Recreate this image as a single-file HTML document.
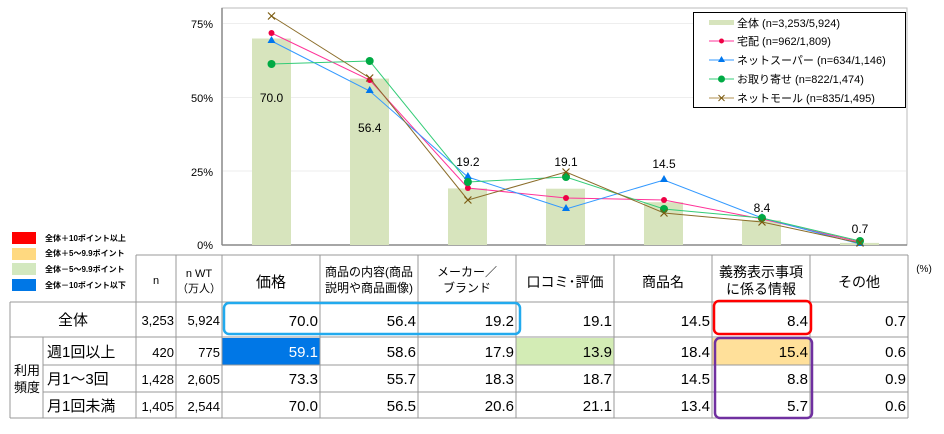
<!DOCTYPE html>
<html><head><meta charset="utf-8"><style>
body{margin:0;background:#fff;width:944px;height:429px;overflow:hidden}
svg text{font-family:"Liberation Sans","Noto Sans CJK JP",sans-serif;fill:#000}
</style></head><body>
<svg width="944" height="429" viewBox="0 0 944 429" xmlns="http://www.w3.org/2000/svg">
<!-- chart frame -->
<rect x="222" y="8" width="685" height="237" fill="#fff" stroke="#bbb" stroke-width="1"/>
<line x1="222" y1="8" x2="222" y2="245" stroke="#888" stroke-width="1.5"/>
<line x1="222" y1="245" x2="907" y2="245" stroke="#888" stroke-width="1.5"/>
<g stroke="#eee" stroke-width="1">
<line x1="223" y1="23.5" x2="906" y2="23.5"/><line x1="223" y1="97.5" x2="906" y2="97.5"/><line x1="223" y1="171" x2="906" y2="171"/>
</g>
<g font-size="11" text-anchor="end">
<text x="213" y="28">75%</text><text x="213" y="102">50%</text><text x="213" y="176">25%</text><text x="213" y="249">0%</text>
</g>
<!-- bars -->
<g fill="#d7e4bd">
<rect x="252" y="38.5" width="39" height="206.5"/>
<rect x="350" y="78.6" width="39" height="166.4"/>
<rect x="448" y="188.4" width="39" height="56.6"/>
<rect x="546" y="188.7" width="39" height="56.3"/>
<rect x="644" y="202.2" width="39" height="42.8"/>
<rect x="742" y="220.2" width="39" height="24.8"/>
<rect x="840" y="242.9" width="39" height="2.1"/>
</g>
<g font-size="12" fill="#333" text-anchor="middle">
<text x="271.5" y="102">70.0</text><text x="369.7" y="132">56.4</text>
<text x="467.9" y="166">19.2</text><text x="566" y="166">19.1</text><text x="664" y="168">14.5</text>
<text x="762" y="212">8.4</text><text x="860" y="233">0.7</text>
</g>
<!-- lines -->
<polyline fill="none" stroke="#ff3399" stroke-width="1" points="271.5,33 369.7,80 467.9,188 566,198 664,200 762,219 860,242"/>
<polyline fill="none" stroke="#3399ff" stroke-width="1" points="271.5,41 369.7,91 467.9,177 566,209 664,180 762,218 860,244"/>
<polyline fill="none" stroke="#33cc77" stroke-width="1" points="271.5,64 369.7,61 467.9,182 566,177 664,209 762,218 860,241"/>
<polyline fill="none" stroke="#8b6d2a" stroke-width="1" points="271.5,16 369.7,78 467.9,200 566,172 664,213 762,222 860,243"/>
<g fill="#ee0044">
<circle cx="271.5" cy="33" r="3"/><circle cx="369.7" cy="80" r="3"/><circle cx="467.9" cy="188" r="3"/><circle cx="566" cy="198" r="3"/><circle cx="664" cy="200" r="3"/><circle cx="762" cy="219" r="3"/><circle cx="860" cy="242" r="3"/>
</g>
<g fill="#0077ee">
<path d="M271.5,36 l4,7 h-8z"/><path d="M369.7,86 l4,7 h-8z"/><path d="M467.9,172 l4,7 h-8z"/><path d="M566,204 l4,7 h-8z"/><path d="M664,175 l4,7 h-8z"/><path d="M762,213 l4,7 h-8z"/><path d="M860,239 l4,7 h-8z"/>
</g>
<g fill="#00aa44">
<circle cx="271.5" cy="64" r="4"/><circle cx="369.7" cy="61" r="4"/><circle cx="467.9" cy="182" r="4"/><circle cx="566" cy="177" r="4"/><circle cx="664" cy="209" r="4"/><circle cx="762" cy="218" r="4"/><circle cx="860" cy="241" r="4"/>
</g>
<g stroke="#7a5a10" stroke-width="1.2">
<path d="M268,12.5l7,7M275,12.5l-7,7"/><path d="M366.2,74.5l7,7M373.2,74.5l-7,7"/><path d="M464.4,196.5l7,7M471.4,196.5l-7,7"/><path d="M562.5,168.5l7,7M569.5,168.5l-7,7"/><path d="M660.5,209.5l7,7M667.5,209.5l-7,7"/><path d="M758.5,218.5l7,7M765.5,218.5l-7,7"/><path d="M856.5,239.5l7,7M863.5,239.5l-7,7"/>
</g>
<!-- legend -->
<rect x="693.5" y="12.5" width="212" height="95" fill="#fff" stroke="#000" stroke-width="1"/>
<g font-size="11">
<rect x="709" y="20" width="25" height="5" fill="#d7e4bd"/><text x="737" y="27">全体 (n=3,253/5,924)</text>
<line x1="709" y1="41" x2="734" y2="41" stroke="#ff3399"/><circle cx="721.5" cy="41" r="2.5" fill="#ee0044"/><text x="737" y="45">宅配 (n=962/1,809)</text>
<line x1="709" y1="60" x2="734" y2="60" stroke="#3399ff"/><path d="M721.5,56 l3.5,6 h-7z" fill="#0077ee"/><text x="737" y="64">ネットスーパー (n=634/1,146)</text>
<line x1="709" y1="79" x2="734" y2="79" stroke="#33cc77"/><circle cx="721.5" cy="79" r="3.5" fill="#00aa44"/><text x="737" y="83">お取り寄せ (n=822/1,474)</text>
<line x1="709" y1="98" x2="734" y2="98" stroke="#b09050"/><path d="M718.5,95l6,6M724.5,95l-6,6" stroke="#7a5a10"/><text x="737" y="102">ネットモール (n=835/1,495)</text>
</g>
<!-- color legend -->
<rect x="12" y="232" width="24" height="12" fill="#ff0000"/>
<rect x="12" y="248" width="24" height="12" fill="#ffd980"/>
<rect x="12" y="263" width="24" height="12" fill="#d3e8bf"/>
<rect x="12" y="279" width="24" height="12" fill="#0077e6"/>
<g font-size="8" font-weight="bold">
<text x="45" y="241">全体＋10ポイント以上</text>
<text x="45" y="256">全体＋5～9.9ポイント</text>
<text x="45" y="272">全体－5～9.9ポイント</text>
<text x="45" y="288">全体－10ポイント以下</text>
</g>
<!-- table fills -->
<rect x="222" y="338" width="98" height="27" fill="#0077e6"/>
<rect x="516" y="338" width="98" height="27" fill="#d3ecb5"/>
<rect x="712" y="338" width="98" height="27" fill="#ffe09a"/>
<!-- table grid -->
<g stroke="#999" stroke-width="1" fill="none">
<path d="M136,255H908M10,302H908M10,337H908M43,365H908M43,392H908M10,418H908"/>
<path d="M10,302V418M43,337V418M136,255V418M176,255V418M222,255V418M320,255V418M418,255V418M516,255V418M614,255V418M712,255V418M810,255V418M908,255V418"/>
</g>
<g font-size="11" text-anchor="middle">
<text x="156" y="284">n</text>
<text x="199" y="277">n WT</text><text x="199" y="292">（万人）</text>
<text x="271" y="287" font-size="15">価格</text>
<text x="369" y="276" font-size="12">商品の内容(商品</text><text x="369" y="292" font-size="12">説明や商品画像)</text>
<text x="467" y="276" font-size="12">メーカー／</text><text x="467" y="292" font-size="12">ブランド</text>
<text x="565" y="287" font-size="14">口コミ･評価</text>
<text x="663" y="287" font-size="14">商品名</text>
<text x="761" y="277" font-size="14">義務表示事項</text><text x="761" y="294" font-size="14">に係る情報</text>
<text x="859" y="287" font-size="14">その他</text>
<text x="924" y="272" font-size="10">(%)</text>
<text x="73" y="325" font-size="15">全体</text>
<text x="27" y="375" font-size="13">利用</text><text x="27" y="392" font-size="13">頻度</text>
</g>
<g font-size="15">
<text x="47" y="357">週1回以上</text>
<text x="47" y="384">月1～3回</text>
<text x="47" y="411">月1回未満</text>
</g>
<g font-size="13" text-anchor="end">
<text x="174" y="325">3,253</text><text x="220" y="325">5,924</text>
<text x="174" y="357">420</text><text x="220" y="357">775</text>
<text x="174" y="384">1,428</text><text x="220" y="384">2,605</text>
<text x="174" y="411">1,405</text><text x="220" y="411">2,544</text>
</g>
<g font-size="15" text-anchor="end">
<text x="318" y="326">70.0</text><text x="416" y="326">56.4</text><text x="514" y="326">19.2</text><text x="612" y="326">19.1</text><text x="710" y="326">14.5</text><text x="808" y="326">8.4</text><text x="906" y="326">0.7</text>
<text x="318" y="357" style="fill:#fff">59.1</text><text x="416" y="357">58.6</text><text x="514" y="357">17.9</text><text x="612" y="357">13.9</text><text x="710" y="357">18.4</text><text x="808" y="357">15.4</text><text x="906" y="357">0.6</text>
<text x="318" y="384">73.3</text><text x="416" y="384">55.7</text><text x="514" y="384">18.3</text><text x="612" y="384">18.7</text><text x="710" y="384">14.5</text><text x="808" y="384">8.8</text><text x="906" y="384">0.9</text>
<text x="318" y="411">70.0</text><text x="416" y="411">56.5</text><text x="514" y="411">20.6</text><text x="612" y="411">21.1</text><text x="710" y="411">13.4</text><text x="808" y="411">5.7</text><text x="906" y="411">0.6</text>
</g>
<!-- highlight boxes -->
<rect x="224" y="303" width="296" height="31" rx="5" fill="none" stroke="#22aaee" stroke-width="2.5"/>
<rect x="714" y="301" width="97" height="33" rx="5" fill="none" stroke="#ff0000" stroke-width="2.5"/>
<rect x="715" y="338" width="97" height="80" rx="5" fill="none" stroke="#7030a0" stroke-width="2.5"/>
</svg>
</body></html>
